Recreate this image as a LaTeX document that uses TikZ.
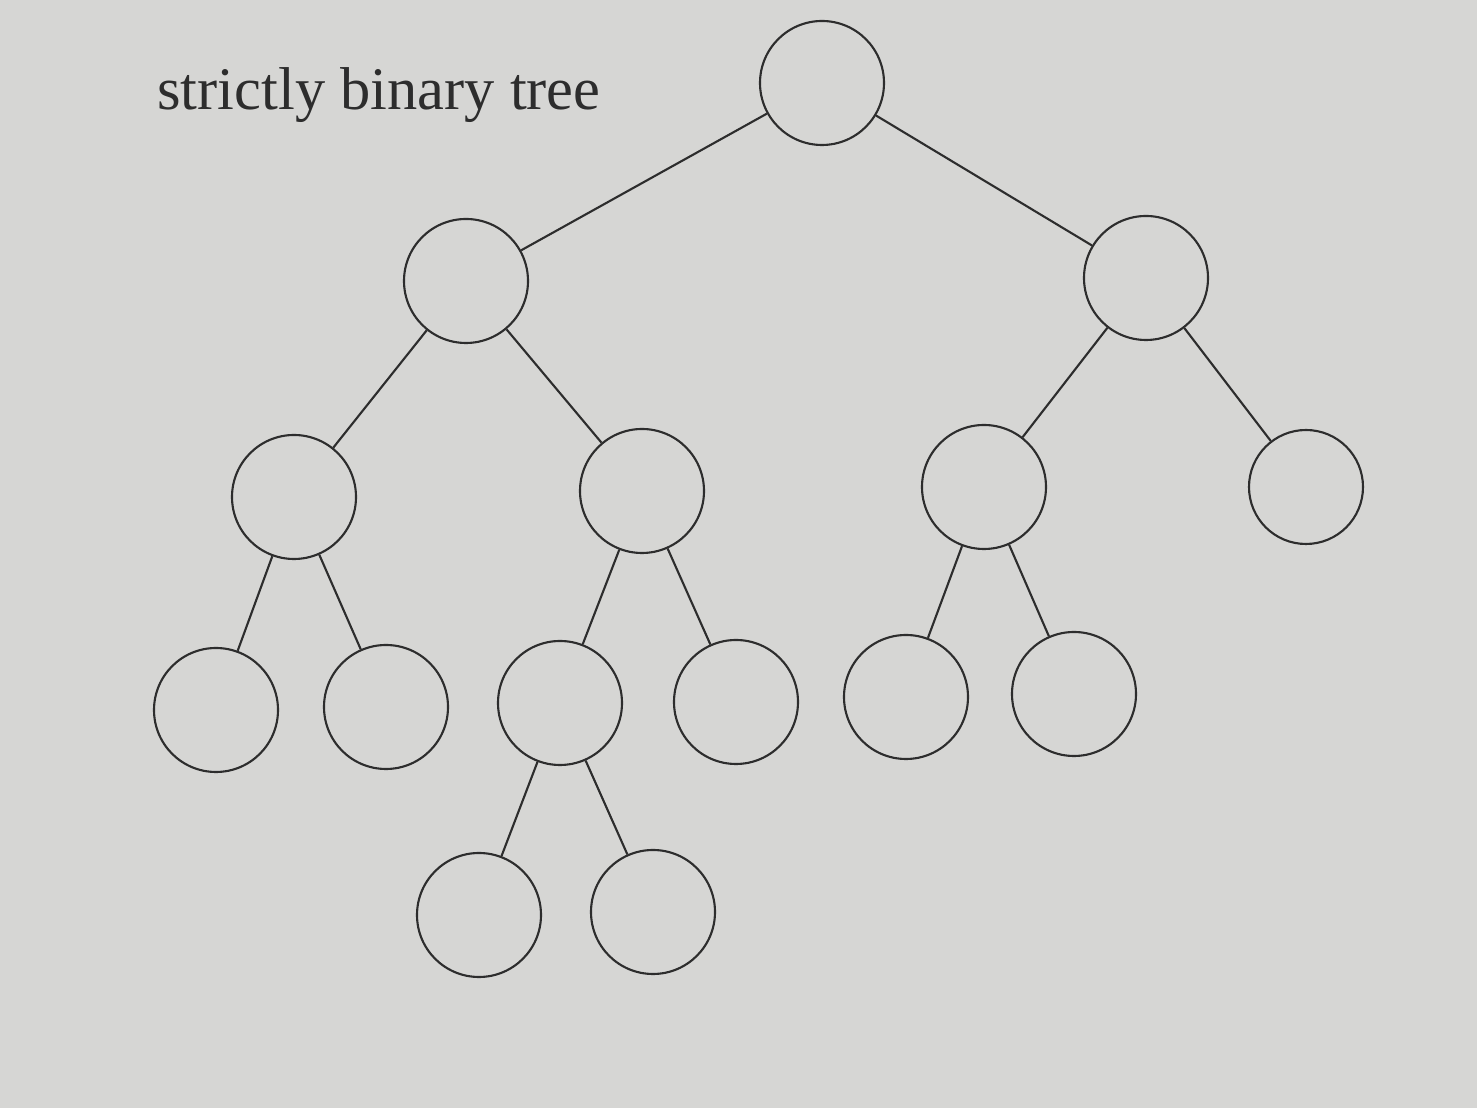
\documentclass[tikz,border=0pt]{standalone}
\usepackage{fontspec}
\setmainfont{Liberation Serif}
\usepackage{xcolor}
\usepackage{tikz}
\definecolor{paper}{RGB}{214,214,212}
\definecolor{ink}{RGB}{45,45,45}
\tikzset{
  vtx/.style={circle, draw=ink, line width=0.6pt, minimum size=1.24cm, inner sep=0pt},
  edge/.style={draw=ink, line width=0.6pt}
}

\begin{document}
\begin{tikzpicture}
\fill [paper] (0,0) rectangle (14.77,11.08);
\useasboundingbox (0,0) rectangle (14.77,11.08);
\node [ink] (title) at (3.79,10.13) {\fontsize{17.2}{20}\selectfont strictly binary tree};
% level 0 and 1
\node [vtx] (root) at (8.22,10.25) {};
\node [vtx] (a) at (4.66,8.27) {};
\node [vtx] (b) at (11.46,8.30) {};
% level 2
\node [vtx] (aa) at (2.94,6.11) {};
\node [vtx] (ab) at (6.42,6.17) {};
\node [vtx] (ba) at (9.84,6.21) {};
\node [vtx, minimum size=1.14cm] (bb) at (13.06,6.21) {};
% level 3
\node [vtx] (aaa) at (2.16,3.98) {};
\node [vtx] (aab) at (3.86,4.01) {};
\node [vtx] (aba) at (5.60,4.05) {};
\node [vtx] (abb) at (7.36,4.06) {};
\node [vtx] (baa) at (9.06,4.11) {};
\node [vtx] (bab) at (10.74,4.14) {};
% level 4
\node [vtx] (abaa) at (4.79,1.93) {};
\node [vtx] (abab) at (6.53,1.96) {};
\draw [edge] (root) -- (a);
\draw [edge] (root) -- (b);
\draw [edge] (a) -- (aa);
\draw [edge] (a) -- (ab);
\draw [edge] (b) -- (ba);
\draw [edge] (b) -- (bb);
\draw [edge] (aa) -- (aaa);
\draw [edge] (aa) -- (aab);
\draw [edge] (ab) -- (aba);
\draw [edge] (ab) -- (abb);
\draw [edge] (ba) -- (baa);
\draw [edge] (ba) -- (bab);
\draw [edge] (aba) -- (abaa);
\draw [edge] (aba) -- (abab);
\end{tikzpicture}
\end{document}
